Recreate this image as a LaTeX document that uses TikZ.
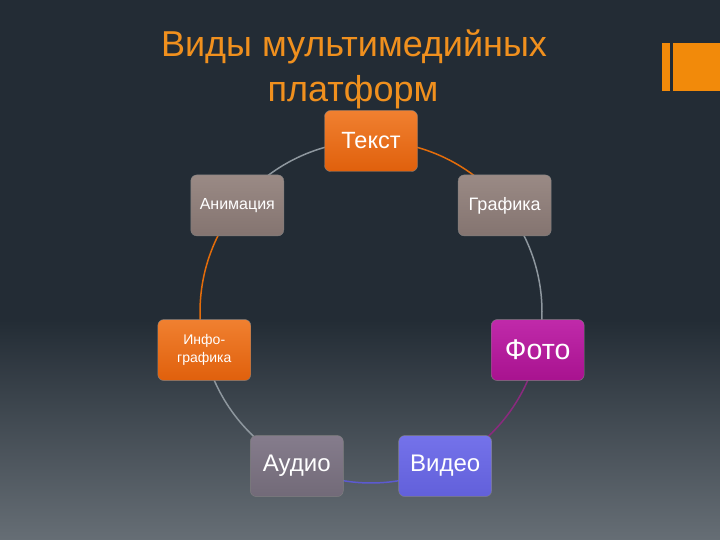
\documentclass[tikz,border=0pt]{standalone}
\usepackage{fontspec}
\setmainfont{Liberation Sans}
\usetikzlibrary{calc,backgrounds}
\definecolor{bgtop}{HTML}{232C35}
\definecolor{bgbot}{HTML}{666E75}
\definecolor{deco}{HTML}{F28A0A}
\definecolor{titlec}{HTML}{F0901E}
\definecolor{orT}{HTML}{F08030}
\definecolor{orB}{HTML}{E0600C}
\definecolor{grT}{HTML}{9A8A85}
\definecolor{grB}{HTML}{847470}
\definecolor{mgT}{HTML}{C02AAA}
\definecolor{mgB}{HTML}{A8128F}
\definecolor{auT}{HTML}{857C8C}
\definecolor{auB}{HTML}{726A78}
\definecolor{viT}{HTML}{7472EA}
\definecolor{viB}{HTML}{6260DA}
\definecolor{lnOr}{HTML}{E36C0A}
\definecolor{lnGr}{HTML}{8E979E}
\definecolor{lnMg}{HTML}{8A2A7E}
\definecolor{lnVi}{HTML}{5C5AD0}
\begin{document}
\begin{tikzpicture}[x=1pt,y=1pt,
  box/.style={rounded corners=6pt, minimum width=93pt, minimum height=61pt,
    inner sep=2pt, text=white, align=center, draw=black!50, line width=0.4pt},
  link/.style={line width=1.5pt},
  ttl/.style={text=titlec, font=\fontsize{36}{42}\selectfont, anchor=base, inner sep=0pt}]
\useasboundingbox (0,0) rectangle (720,-540);
\begin{pgfonlayer}{background}
\fill[bgtop] (0,0) rectangle (720,-322);
\shade[top color=bgtop, bottom color=bgbot] (0,-320) rectangle (720,-540);
\end{pgfonlayer}
% decoration
\fill[deco] (662,-43) rectangle (720,-91);
\fill[bgtop] (670,-43) rectangle (673,-91);
% title
\node[ttl] (t1) at (354,-57) {Виды мультимедийных};
\node[ttl] (t2) at (353,-102) {платформ};
% nodes
\coordinate (c) at (371,-312);
\node[box, top color=orT, bottom color=orB, font=\fontsize{23.5}{27}\selectfont] (text) at ($(c)+(90:171pt)$) {Текст};
\node[box, top color=grT, bottom color=grB, font=\fontsize{18}{21}\selectfont] (graf) at ($(c)+(38.57:171pt)$) {Графика};
\node[box, top color=mgT, bottom color=mgB, font=\fontsize{28.5}{32}\selectfont] (foto) at ($(c)+(-12.86:171pt)$) {Фото};
\node[box, top color=viT, bottom color=viB, font=\fontsize{24}{28}\selectfont] (video) at ($(c)+(-64.29:171pt)$) {Видео};
\node[box, top color=auT, bottom color=auB, font=\fontsize{24}{28}\selectfont] (audio) at ($(c)+(-115.71:171pt)$) {Аудио};
\node[box, top color=orT, bottom color=orB, font=\fontsize{14}{18}\selectfont] (info) at ($(c)+(-167.14:171pt)$) {\raisebox{-3pt}{\begin{tabular}{@{}c@{}}Инфо-\\графика\end{tabular}}};
\node[box, top color=grT, bottom color=grB, font=\fontsize{16}{19}\selectfont] (anim) at ($(c)+(141.43:171pt)$) {Анимация};
% connectors
\begin{pgfonlayer}{background}
\draw[link, lnOr] (text.center) arc[start angle=90, end angle=38.57, radius=171pt];
\draw[link, lnGr] (graf.center) arc[start angle=38.57, end angle=-12.86, radius=171pt];
\draw[link, lnMg] (foto.center) arc[start angle=-12.86, end angle=-64.29, radius=171pt];
\draw[link, lnVi] (video.center) arc[start angle=-64.29, end angle=-115.71, radius=171pt];
\draw[link, lnGr] (audio.center) arc[start angle=-115.71, end angle=-167.14, radius=171pt];
\draw[link, lnOr] (info.center) arc[start angle=-167.14, end angle=-218.57, radius=171pt];
\draw[link, lnGr] (anim.center) arc[start angle=141.43, end angle=90, radius=171pt];
\end{pgfonlayer}
\end{tikzpicture}
\end{document}
